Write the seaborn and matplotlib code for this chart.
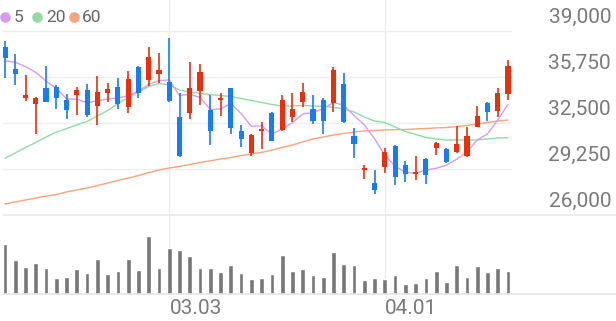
import numpy as np
import pandas as pd
import matplotlib
matplotlib.use("Agg")
import matplotlib.pyplot as plt
import seaborn as sns
from matplotlib import transforms
from matplotlib.lines import Line2D

# ---------------- data ----------------
opens = [37850, 36350, 34250, 33850, 35000, 35050, 34150, 34450, 34850, 33700,
         34650, 35050, 33600, 36450, 35550, 35950, 35400, 32900, 33200, 34750,
         33400, 34100, 34950, 31950, 30400, 31950, 33200, 32000, 32900, 33950,
         33500, 34150, 33900, 35250, 31600, 29200, 28250, 29400, 30900, 29500,
         28900, 29950, 30700, 30650, 30450, 30150, 32250, 33900, 33350, 34550]
highs = [38300, 37400, 35900, 34350, 36550, 35200, 34550, 35050, 35250, 35850,
         35300, 35650, 36200, 36500, 37850, 37450, 38500, 34600, 36800, 36650,
         34500, 34650, 35000, 32350, 31750, 32550, 33250, 34500, 34650, 35300,
         34450, 34250, 36450, 36050, 32150, 29500, 29150, 30750, 30950, 29800,
         30150, 30050, 31150, 30700, 32300, 32200, 33700, 33950, 34950, 36950]
lows = [35650, 35200, 34050, 31750, 33950, 33500, 32800, 33100, 32950, 32350,
        34000, 33500, 33200, 34300, 35100, 35300, 34000, 30100, 32750, 33750,
        30950, 33000, 31700, 30800, 30150, 30650, 31200, 31950, 32600, 33650,
        32400, 31700, 33300, 32500, 30000, 28550, 27500, 29000, 28100, 28350,
        28500, 28200, 30250, 29700, 30400, 30100, 32200, 32650, 32900, 34100]
closes = [37100, 35950, 34500, 34300, 34000, 34300, 33450, 34850, 33050, 34700,
          34900, 33850, 35600, 34650, 37150, 36250, 34050, 30150, 35000, 36100,
          31950, 34250, 32150, 31350, 31650, 32100, 31250, 34100, 33500, 34700,
          32650, 32650, 36250, 32550, 31050, 29350, 27750, 30450, 28650, 28900,
          29000, 28850, 31100, 29750, 31000, 31600, 33000, 33300, 34650, 36550]
volumes = [500, 337, 270, 307, 263, 163, 167, 250, 207, 350,
           200, 230, 353, 243, 583, 257, 457, 443, 383, 263,
           257, 220, 290, 210, 150, 160, 200, 390, 230, 247,
           190, 173, 423, 297, 290, 140, 163, 150, 187, 97,
           110, 157, 230, 123, 290, 167, 280, 223, 263, 233]
ma5 = [36900, 36790, 36480, 36080, 35450, 34950, 34200, 34180, 33930, 34070,
       34190, 34270, 34420, 34740, 35230, 35500, 35540, 34450, 34520, 34310,
       33450, 33490, 33890, 33160, 32270, 32300, 31700, 32090, 32520, 33130,
       33240, 33520, 33950, 33760, 33030, 32370, 31390, 30230, 29450, 29020,
       28950, 29170, 29300, 29520, 29940, 30460, 31290, 31730, 32710, 33820]
ma20 = [30010, 30380, 30770, 31120, 31510, 31860, 32110, 32360, 32610, 33000,
        33380, 33880, 34300, 34690, 35080, 35290, 35190, 34830, 34690, 34600,
        34510, 34440, 34370, 34230, 34090, 33950, 33810, 33700, 33700, 33740,
        33700, 33670, 33610, 33490, 33280, 32920, 32640, 32540, 32220, 31900,
        31690, 31480, 31370, 31300, 31300, 31300, 31300, 31370, 31440, 31460]
ma60 = [26780, 26920, 27060, 27200, 27340, 27450, 27630, 27770, 27910, 28080,
        28260, 28440, 28610, 28790, 29000, 29180, 29320, 29430, 29570, 29710,
        29820, 29960, 30060, 30200, 30310, 30420, 30590, 30770, 30950, 31160,
        31370, 31510, 31650, 31760, 31860, 31940, 31970, 32010, 32030, 32040,
        32080, 32110, 32150, 32180, 32250, 32320, 32430, 32540, 32640, 32710]
price_ticks = [26000, 29250, 32500, 35750, 39000]
date_ticks = [16, 37]
date_labels = ["03.03", "04.01"]
ma_names = ["5", "20", "60"]

# ---------------- style ----------------
sns.set_style("white")
plt.rcParams['font.family'] = ['Roboto', 'DejaVu Sans']

RED = "#e8300c"
BLUE = "#1a7cf2"
VOLC = "#777777"
MA_COLORS = ["#d99bee", "#92dba4", "#f7a47e"]
GRID = "#eeeeee"
TXT = "#7a7a7a"

W, H = 616, 321
fig = plt.figure(figsize=(W / 100, H / 100), dpi=100)
fig.patch.set_facecolor("white")


def rect(l, t, r, b):
    return [l / W, 1 - b / H, (r - l) / W, (b - t) / H]


ax = fig.add_axes(rect(3, 0, 512, 215))
axv = fig.add_axes(rect(3, 215, 512, 294))

n = len(closes)
idx = np.arange(n)
df = pd.DataFrame({"i": idx, "open": opens, "high": highs, "low": lows,
                   "close": closes, "vol": volumes,
                   "ma5": ma5, "ma20": ma20, "ma60": ma60})
df["up"] = df["close"] >= df["open"]
df["color"] = np.where(df["up"], RED, BLUE)

xlim = (-0.195, 49.39)
px_per = 3250 / 46.0
ylim = (26000, 26000 + 215 * px_per)

# grid
for v in price_ticks[1:]:
    ax.axhline(v, color=GRID, lw=1.0, zorder=0)
for t in date_ticks:
    ax.axvline(t, color=GRID, lw=1.0, zorder=0)
    axv.axvline(t, color=GRID, lw=1.0, zorder=0)

# moving averages
for col, c in zip(["ma60", "ma20", "ma5"], MA_COLORS[::-1]):
    sns.lineplot(data=df, x="i", y=col, ax=ax, color=c, lw=1.0, zorder=2,
                 legend=False)

# candles
ax.vlines(df["i"], df["low"], df["high"], colors=df["color"], lw=1.2, zorder=3)
body_h = np.maximum((df["close"] - df["open"]).abs(), 110)
body_b = np.minimum(df["open"], df["close"])
ax.bar(df["i"], body_h, bottom=body_b, width=0.5, color=df["color"],
       linewidth=0, zorder=4)

# volume
sns.barplot(data=df, x="i", y="vol", ax=axv, native_scale=True, color=VOLC,
            saturation=1, width=0.46, errorbar=None, zorder=2)

for a in (ax, axv):
    a.set_xlim(*xlim)
    a.set_xlabel("")
    a.set_ylabel("")
    a.set_xticks([])
    a.set_yticks([])
    for s in a.spines.values():
        s.set_visible(False)
    a.patch.set_alpha(0)
ax.set_ylim(*ylim)
axv.set_ylim(0, 790)

# full-width separators
fig.add_artist(Line2D([3 / W, 1], [1 - 215 / H] * 2, color="#eaeaea", lw=1.2,
                      transform=fig.transFigure))
fig.add_artist(Line2D([3 / W, 1], [1 - 294 / H] * 2, color="#e4e4e4", lw=1.2,
                      transform=fig.transFigure))

# price labels (right, above gridlines)
blend = transforms.blended_transform_factory(fig.transFigure, ax.transData)
ltrans = transforms.offset_copy(blend, fig=fig, x=0, y=14, units="dots")
for v in price_ticks:
    ax.text(611 / W, v, f"{v:,}", transform=ltrans, ha="right", va="center",
            fontsize=15, color=TXT, clip_on=False)

# date labels
btrans = transforms.blended_transform_factory(axv.transData, fig.transFigure)
for t, lab in zip(date_ticks, date_labels):
    axv.text(t + 0.05, 1 - 309 / H, lab, transform=btrans, ha="left",
             va="center", fontsize=15, color=TXT, clip_on=False)

# legend
leg_circ_x = [5, 37, 74]
leg_txt_x = [14, 46, 82]
for cx, tx, c, name in zip(leg_circ_x, leg_txt_x, MA_COLORS, ma_names):
    fig.add_artist(Line2D([cx / W], [1 - 17 / H], marker="o", markersize=7.6,
                          color=c, markeredgewidth=0, linestyle="none",
                          transform=fig.transFigure))
    fig.text(tx / W, 1 - 17.5 / H, name, ha="left", va="center",
             fontsize=12.5, color="#666666")

fig.savefig("out.png", dpi=100, facecolor="white")
